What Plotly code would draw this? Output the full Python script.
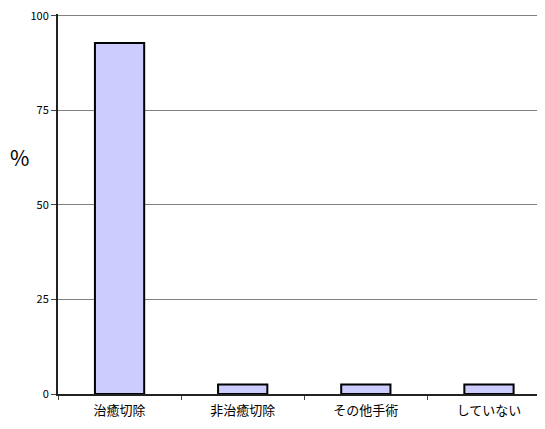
import plotly.graph_objects as go

categories = ["治癒切除", "非治癒切除", "その他手術", "していない"]
values = [92.8, 2.5, 2.5, 2.5]
y_ticks = [0, 25, 50, 75, 100]

font_family = "Noto Sans CJK JP, Noto Sans, sans-serif"

fig = go.Figure()
fig.add_trace(go.Bar(
    x=categories,
    y=values,
    width=0.4,
    marker=dict(color="#ccccff", line=dict(color="black", width=2)),
))

fig.update_layout(
    width=545,
    height=429,
    margin=dict(l=50, r=0, t=6, b=43),
    paper_bgcolor="white",
    plot_bgcolor="white",
    showlegend=False,
    font=dict(family=font_family, color="black", size=11),
    xaxis=dict(
        type="category",
        range=[-0.5, 3.52],
        automargin=False,
        showline=True,
        linecolor="#222222",
        linewidth=2,
        ticks="outside",
        tickson="boundaries",
        ticklen=4,
        tickcolor="#444444",
        tickfont=dict(size=13),
        ticklabelstandoff=3,
        showgrid=False,
    ),
    yaxis=dict(
        range=[0, 100.5],
        automargin=False,
        tickvals=y_ticks,
        ticktext=[str(v) for v in y_ticks],
        showline=True,
        linecolor="#222222",
        linewidth=2,
        ticks="outside",
        ticklen=5,
        tickcolor="#444444",
        showgrid=True,
        gridcolor="#808080",
        gridwidth=1,
        zeroline=False,
        tickfont=dict(size=11),
        ticklabeloverflow="allow",
    ),
    annotations=[dict(
        text="%", xref="paper", yref="paper", x=-0.077, y=0.623,
        xanchor="center", yanchor="middle", showarrow=False,
        font=dict(size=21, family=font_family),
    )],
)

fig.write_html("out.html")
